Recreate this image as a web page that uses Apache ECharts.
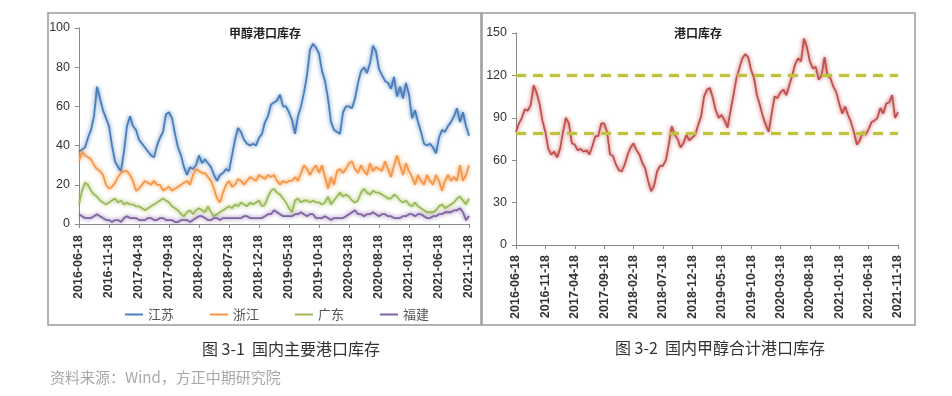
<!DOCTYPE html>
<html><head><meta charset="utf-8">
<script src="https://cdn.jsdelivr.net/npm/echarts@6/dist/echarts.min.js"></script>
<style>html,body{margin:0;padding:0;background:#fff;}#c{width:952px;height:396px;}</style>
</head><body><div id="c"></div>
<script>
// Tick labels shown on both x axes (every 5 months)
const tickLabels = ['2016-06-18','2016-11-18','2017-04-18','2017-09-18','2018-02-18','2018-07-18','2018-12-18','2019-05-18','2019-10-18','2020-03-18','2020-08-18','2021-01-18','2021-06-18','2021-11-18'];

// Half-monthly sample dates from 2016-06-18 to 2021-11-18
const categories = [];
(function(){
  let y = 2016, m = 6;
  const p = n => (n < 10 ? '0' : '') + n;
  while (categories.length < 131) {
    categories.push(y + '-' + p(m) + '-18');
    m++; if (m > 12) { m = 1; y++; }
    if (categories.length < 131) categories.push(y + '-' + p(m) + '-03');
  }
})();

const jiangsu = [
 37,38,39,44,48,55,70,64,58,54,
 50,40,32,29,27,37,50,55,50,48,
 43,41,39,37,35,34,40,44,47,56,
 57,54,46,39,35,29,25,29,28,30,
 35,31,33,31,29,25,22,25,26,28,
 27,35,43,49,47,43,41,40,41,40,
 44,46,52,55,61,62,63,66,60,60,
 57,53,46,55,60,67,76,89,92,90,
 87,78,73,64,52,48,47,46,57,60,
 60,59,64,72,78,80,77,82,91,88,
 79,76,73,72,69,75,65,70,64,72,
 66,54,58,52,47,41,40,41,39,36,
 44,48,47,50,52,55,59,52,57,50,
 45];
const zhejiang = [
 32,37,35,34,33,30,28,27,25,20,
 18,19,21,24,26,27,27,25,22,17,
 18,20,22,21,20,22,20,20,17,18,
 19,17,18,19,20,21,22,20,25,28,
 27,26,26,24,22,18,13,11,16,20,
 22,19,20,23,22,20,22,24,23,22,
 25,24,23,25,24,25,22,20,22,21,
 22,22,24,22,26,30,28,25,28,30,
 26,30,24,18,24,20,27,28,26,28,
 31,32,28,26,30,27,25,31,27,29,
 28,27,32,28,24,30,35,30,25,31,
 27,24,20,25,22,20,25,22,20,25,
 22,17,22,25,22,24,22,30,22,25,
 30];
const guangdong = [
 10,17,21,20,17,15,14,12,11,10,
 11,12,13,11,12,10,11,10,10,9,
 9,8,7,8,9,10,11,12,13,12,
 11,9,8,7,5,4,6,7,5,7,
 8,7,6,9,6,4,5,6,7,8,
 9,8,10,9,11,10,9,11,10,11,
 12,9,10,14,17,18,16,15,13,11,
 8,6,12,13,11,12,12,11,12,11,
 11,10,11,14,10,12,14,16,14,15,
 14,12,11,12,16,18,16,15,17,16,
 16,15,14,13,13,15,14,12,11,12,
 10,9,11,9,8,7,6,6,6,7,
 9,10,8,9,10,11,13,14,12,10,
 13];
const fujian = [
 5,4,3,3,3,4,5,4,3,2,
 2,1,2,2,1,3,4,3,3,3,
 2,2,2,3,3,2,2,3,3,2,
 2,2,1,1,2,2,2,1,2,3,
 4,4,3,2,2,3,3,2,3,3,
 3,3,3,3,3,4,4,3,3,3,
 3,3,4,5,5,7,6,5,4,4,
 4,4,5,5,6,5,4,5,5,3,
 3,3,4,3,2,3,3,3,3,4,
 5,6,7,5,5,4,5,5,6,5,
 4,5,5,4,4,3,3,3,4,4,
 5,5,4,5,5,4,3,3,4,4,
 5,5,6,6,6,7,7,8,6,2,
 4];
const total = [
 80,86,90,96,95,99,113,108,100,88,
 80,68,64,66,62,68,80,90,86,72,
 71,67,68,66,67,64,70,77,77,86,
 86,80,64,63,57,53,52,57,64,69,
 72,67,64,58,54,45,38,42,52,56,
 56,60,71,84,78,75,69,72,78,74,
 76,78,85,91,105,110,111,104,95,90,
 92,88,83,95,106,118,125,132,135,133,
 124,118,106,99,91,85,80,93,105,104,
 108,110,106,113,120,128,132,130,146,140,
 130,125,126,117,120,133,120,118,112,108,
 100,93,98,92,87,80,71,74,80,78,
 82,87,88,90,97,93,100,101,106,90,
 94];
const bandLines = [120, 79];

const showTick = (i, v) => tickLabels.indexOf(v) >= 0;
const axisGray = '#8a8a8a';
const fam = '"Liberation Sans", Arial, sans-serif';
const cjk = '"Noto Sans CJK SC", sans-serif';

function xAxis(gi, margin) {
  return {
    type: 'category', gridIndex: gi, data: categories, boundaryGap: false,
    axisLine: { lineStyle: { color: axisGray, width: 1 } },
    axisTick: { show: true, interval: showTick, length: 4, lineStyle: { color: axisGray } },
    axisLabel: { interval: showTick, rotate: 90, margin: margin, fontSize: 12.5, color: '#333', fontFamily: fam, fontWeight: 'bold' },
    splitLine: { show: false }
  };
}
function yAxis(gi, max, interval) {
  return {
    type: 'value', gridIndex: gi, min: 0, max: max, interval: interval,
    axisLine: { show: true, lineStyle: { color: axisGray } },
    axisTick: { show: true, length: 4, lineStyle: { color: axisGray } },
    axisLabel: { fontSize: 12.5, color: '#333', fontFamily: fam, margin: 9 },
    splitLine: { show: false }
  };
}
function lineSeries(name, data, color, gi) {
  return {
    name: name, type: 'line', xAxisIndex: gi, yAxisIndex: gi, data: data,
    symbol: 'none', smooth: false,
    lineStyle: { color: color, width: 1.8, shadowColor: color, shadowBlur: 4 },
    itemStyle: { color: color }
  };
}

const chart = echarts.init(document.getElementById('c'), null, { renderer: 'canvas' });
chart.setOption({
  animation: false,
  backgroundColor: '#fff',
  grid: [
    { left: 79, right: 952 - 469, top: 28, bottom: 396 - 224 },
    { left: 516, right: 952 - 898, top: 33, bottom: 396 - 245 }
  ],
  xAxis: [xAxis(0, 11), xAxis(1, 10)],
  yAxis: [yAxis(0, 100, 20), yAxis(1, 150, 30)],
  legend: {
    data: ['江苏', '浙江', '广东', '福建'],
    icon: 'rect', left: 120, top: 303, itemWidth: 18, itemHeight: 2, itemGap: 36,
    textStyle: { fontSize: 13, color: '#555', fontFamily: cjk }
  },
  series: [
    lineSeries('江苏', jiangsu, '#4a7ebb', 0),
    lineSeries('浙江', zhejiang, '#f79646', 0),
    lineSeries('广东', guangdong, '#9bbb59', 0),
    lineSeries('福建', fujian, '#8064a2', 0),
    Object.assign(lineSeries('港口库存', total, '#c0504d', 1), {
      markLine: {
        silent: true, symbol: 'none', label: { show: false },
        lineStyle: { color: '#bfc23c', width: 3, type: [10, 7], shadowColor: 'rgba(200,190,60,0.5)', shadowBlur: 3 },
        data: bandLines.map(v => ({ yAxis: v }))
      }
    })
  ],
  graphic: [
    { type: 'rect', shape: { x: 48, y: 13, width: 433, height: 312 }, style: { fill: 'none', stroke: '#9a9a9a', lineWidth: 1.5 } },
    { type: 'rect', shape: { x: 482, y: 13, width: 433, height: 312 }, style: { fill: 'none', stroke: '#9a9a9a', lineWidth: 1.5 } },
    { type: 'text', x: 265, y: 33, style: { text: '甲醇港口库存', font: 'bold 12px ' + cjk, fill: '#222', textAlign: 'center', textVerticalAlign: 'middle' } },
    { type: 'text', x: 698, y: 33, style: { text: '港口库存', font: 'bold 12px ' + cjk, fill: '#222', textAlign: 'center', textVerticalAlign: 'middle' } },
    { type: 'text', x: 291, y: 349, style: { text: '图 3-1  国内主要港口库存', font: '16px ' + cjk, fill: '#333', textAlign: 'center', textVerticalAlign: 'middle' } },
    { type: 'text', x: 720, y: 348, style: { text: '图 3-2  国内甲醇合计港口库存', font: '16px ' + cjk, fill: '#333', textAlign: 'center', textVerticalAlign: 'middle' } },
    { type: 'text', x: 50, y: 377, style: { text: '资料来源：Wind，方正中期研究院', font: '15px ' + cjk, fill: '#a8a8a8', textAlign: 'left', textVerticalAlign: 'middle' } }
  ]
});
</script></body></html>
